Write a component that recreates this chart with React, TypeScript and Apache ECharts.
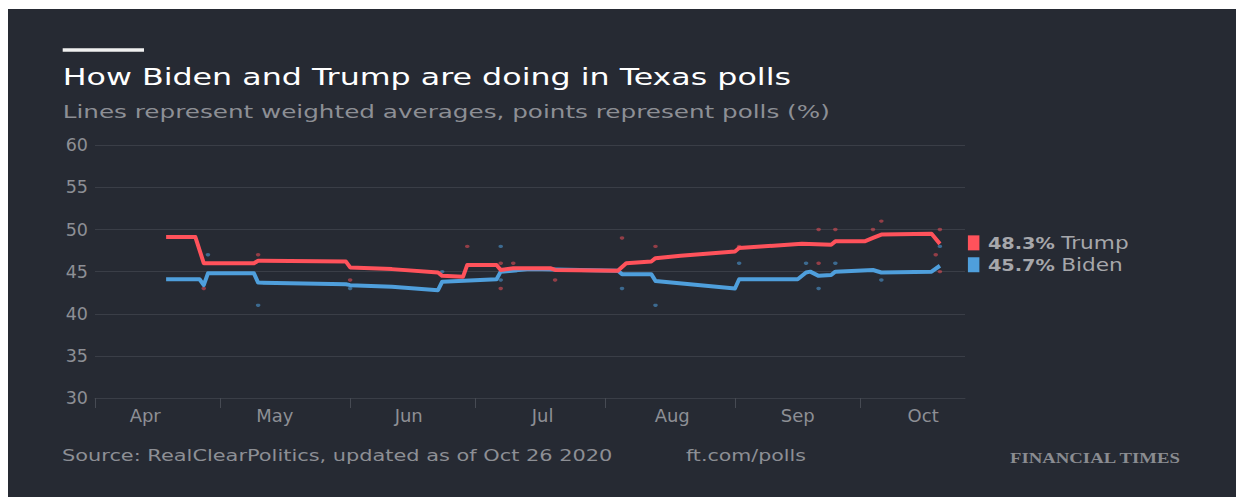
import React, { useEffect, useRef } from "react";
import * as echarts from "echarts";

// ---- data ----
const monthNames = ["Jan", "Feb", "Mar", "Apr", "May", "Jun", "Jul", "Aug", "Sep", "Oct", "Nov", "Dec"];
const monthStarts = ["2020-04-01", "2020-05-01", "2020-06-01", "2020-07-01", "2020-08-01", "2020-09-01", "2020-10-01"];
const monthLabelDates = ["2020-04-13", "2020-05-14", "2020-06-15", "2020-07-17", "2020-08-17", "2020-09-16", "2020-10-16"];
const yTicks = { min: 30, max: 60, step: 5 };
const xRange = { min: "2020-04-01", max: "2020-10-26" };

const trumpAvg: [string, number][] = [
  ["2020-04-18", 49.1], ["2020-04-25", 49.1], ["2020-04-27", 46.0], ["2020-05-09", 46.0],
  ["2020-05-10", 46.3], ["2020-05-31", 46.2], ["2020-06-01", 45.5], ["2020-06-11", 45.3],
  ["2020-06-22", 44.9], ["2020-06-23", 44.5], ["2020-06-28", 44.4], ["2020-06-29", 45.8],
  ["2020-07-06", 45.8], ["2020-07-07", 45.2], ["2020-07-10", 45.4], ["2020-07-19", 45.4],
  ["2020-07-20", 45.2], ["2020-08-04", 45.1], ["2020-08-06", 46.0], ["2020-08-12", 46.2],
  ["2020-08-13", 46.6], ["2020-08-19", 46.9], ["2020-09-01", 47.4], ["2020-09-02", 47.8],
  ["2020-09-17", 48.3], ["2020-09-24", 48.2], ["2020-09-25", 48.6], ["2020-10-02", 48.6],
  ["2020-10-04", 49.0], ["2020-10-06", 49.4], ["2020-10-18", 49.5], ["2020-10-20", 48.3],
];

const bidenAvg: [string, number][] = [
  ["2020-04-18", 44.1], ["2020-04-26", 44.1], ["2020-04-27", 43.4], ["2020-04-28", 44.8],
  ["2020-05-09", 44.8], ["2020-05-10", 43.7], ["2020-05-31", 43.5], ["2020-06-01", 43.4],
  ["2020-06-11", 43.2], ["2020-06-22", 42.8], ["2020-06-23", 43.8], ["2020-07-06", 44.1],
  ["2020-07-07", 45.0], ["2020-07-14", 45.3], ["2020-08-04", 45.1], ["2020-08-05", 44.7],
  ["2020-08-12", 44.7], ["2020-08-13", 43.9], ["2020-09-01", 43.0], ["2020-09-02", 44.1],
  ["2020-09-16", 44.1], ["2020-09-18", 44.9], ["2020-09-19", 45.0], ["2020-09-21", 44.5],
  ["2020-09-24", 44.6], ["2020-09-25", 45.0], ["2020-10-04", 45.2], ["2020-10-06", 44.9],
  ["2020-10-18", 45.0], ["2020-10-20", 45.7],
];

const trumpPolls: [string, number][] = [
  ["2020-04-27", 43], ["2020-05-10", 47], ["2020-06-01", 44], ["2020-06-29", 48],
  ["2020-07-07", 46], ["2020-07-07", 43], ["2020-07-10", 46], ["2020-07-20", 44],
  ["2020-08-05", 49], ["2020-08-13", 48], ["2020-09-02", 48], ["2020-09-21", 50],
  ["2020-09-21", 46], ["2020-09-25", 50], ["2020-10-04", 50], ["2020-10-06", 51],
  ["2020-10-19", 47], ["2020-10-20", 50], ["2020-10-20", 45],
];

const bidenPolls: [string, number][] = [
  ["2020-04-28", 47], ["2020-05-10", 41], ["2020-06-01", 43], ["2020-06-23", 45],
  ["2020-07-07", 48], ["2020-07-07", 44], ["2020-08-05", 43], ["2020-08-13", 41],
  ["2020-09-02", 46], ["2020-09-18", 46], ["2020-09-21", 43], ["2020-09-25", 46],
  ["2020-10-06", 44], ["2020-10-20", 48],
];

// ---- helpers ----
const ts = (d: string) => {
  const [y, m, day] = d.split("-").map(Number);
  return Date.UTC(y, m - 1, day);
};
const toXY = (arr: [string, number][]) => arr.map(([d, v]) => [ts(d), v]);

// ---- styles ----
const BG = "#262a33";
const GRID = "#3a3e47";
const MUTED = "#8d8f95";
const LEGEND_TEXT = "#a6a7ab";
const RED = "#ff525b";
const BLUE = "#4f9fdc";
const FONT = "DejaVu Sans";

export default function App() {
  const ref = useRef<HTMLDivElement>(null);

  useEffect(() => {
    if (!ref.current) return;
    const chart = echarts.init(ref.current, null, { renderer: "svg" });

    const lineSeries = [
      { name: "Trump", data: trumpAvg, color: RED },
      { name: "Biden", data: bidenAvg, color: BLUE },
    ];

    chart.setOption({
      animation: false,
      backgroundColor: BG,
      grid: { left: 87, right: 271, top: 136.3, bottom: 99, containLabel: false },
      xAxis: {
        type: "value",
        min: ts(xRange.min),
        max: ts(xRange.max),
        axisLine: { show: true, lineStyle: { color: GRID, width: 1 } },
        axisTick: {
          show: true,
          customValues: monthStarts.map(ts),
          length: 10,
          lineStyle: { color: "#464a53", width: 1 },
        },
        axisLabel: {
          customValues: monthLabelDates.map(ts),
          formatter: (v: number) => monthNames[new Date(v).getUTCMonth()],
          color: MUTED,
          fontFamily: FONT,
          fontSize: 18,
          margin: 8,
        },
        splitLine: { show: false },
      },
      yAxis: {
        type: "value",
        min: yTicks.min,
        max: yTicks.max,
        interval: yTicks.step,
        axisLine: { show: false },
        axisTick: { show: false },
        axisLabel: { color: MUTED, fontFamily: FONT, fontSize: 17.5, margin: 7 },
        splitLine: { lineStyle: { color: GRID, width: 1 } },
      },
      series: [
        {
          name: "Trump polls",
          type: "scatter",
          data: toXY(trumpPolls),
          symbol: "circle",
          symbolSize: [4.6, 3.4],
          itemStyle: { color: RED, opacity: 0.5 },
          z: 1,
        },
        {
          name: "Biden polls",
          type: "scatter",
          data: toXY(bidenPolls),
          symbol: "circle",
          symbolSize: [4.6, 3.4],
          itemStyle: { color: BLUE, opacity: 0.55 },
          z: 1,
        },
        ...lineSeries.map((s, i) => ({
          name: s.name,
          type: "line",
          data: toXY(s.data),
          showSymbol: false,
          lineStyle: { color: s.color, width: 4, join: "round" },
          itemStyle: { color: s.color },
          z: 3 - i,
        })),
      ],
    });

    // legend placed next to each line's last point, through the chart's own scales
    const legendEls: any[] = [];
    lineSeries.forEach((s) => {
      const last = s.data[s.data.length - 1];
      const [px, py] = chart.convertToPixel({ xAxisIndex: 0, yAxisIndex: 0 }, [ts(last[0]), last[1]]);
      const cy = py - 1;
      legendEls.push({
        type: "rect",
        shape: { x: px + 28, y: cy - 7.5, width: 11.5, height: 15 },
        style: { fill: s.color },
      });
      legendEls.push({
        type: "text",
        x: px + 48,
        y: cy,
        scaleX: 1.17,
        style: {
          text: `{b|${last[1].toFixed(1)}%} {t|${s.name}}`,
          fill: LEGEND_TEXT,
          fontFamily: FONT,
          fontSize: 17,
          verticalAlign: "middle",
          rich: {
            b: { fontFamily: FONT, fontSize: 16.5, fontWeight: "bold", fill: LEGEND_TEXT, color: LEGEND_TEXT },
            t: { fontFamily: FONT, fontSize: 18.5, fill: LEGEND_TEXT, color: LEGEND_TEXT },
          },
        },
      });
    });

    chart.setOption({
      graphic: [
        { type: "rect", left: 54.7, top: 39.3, shape: { width: 81.3, height: 3.4 }, style: { fill: "#f0f0f0" } },
        {
          type: "text", x: 54.7, y: 68.5, scaleX: 1.378,
          style: { text: "How Biden and Trump are doing in Texas polls", fill: "#ffffff", fontFamily: FONT, fontSize: 23, verticalAlign: "middle" },
        },
        {
          type: "text", x: 54.7, y: 102.7, scaleX: 1.37,
          style: { text: "Lines represent weighted averages, points represent polls (%)", fill: MUTED, fontFamily: FONT, fontSize: 18, verticalAlign: "middle" },
        },
        {
          type: "text", x: 54, y: 447, scaleX: 1.393,
          style: { text: "Source: RealClearPolitics, updated as of Oct 26 2020", fill: MUTED, fontFamily: FONT, fontSize: 15, verticalAlign: "middle" },
        },
        {
          type: "text", x: 678, y: 447, scaleX: 1.37,
          style: { text: "ft.com/polls", fill: MUTED, fontFamily: FONT, fontSize: 15, verticalAlign: "middle" },
        },
        {
          type: "text", x: 1002, y: 449, scaleX: 1.25,
          style: { text: "FINANCIAL TIMES", fill: "#8a8c91", fontFamily: "Liberation Serif", fontWeight: "bold", fontSize: 15, verticalAlign: "middle" },
        },
        ...legendEls,
      ],
    });

    return () => chart.dispose();
  }, []);

  return (
    <div
      ref={ref}
      style={{ position: "fixed", left: 8, top: 9, width: 1228, height: 488, background: BG }}
    />
  );
}
